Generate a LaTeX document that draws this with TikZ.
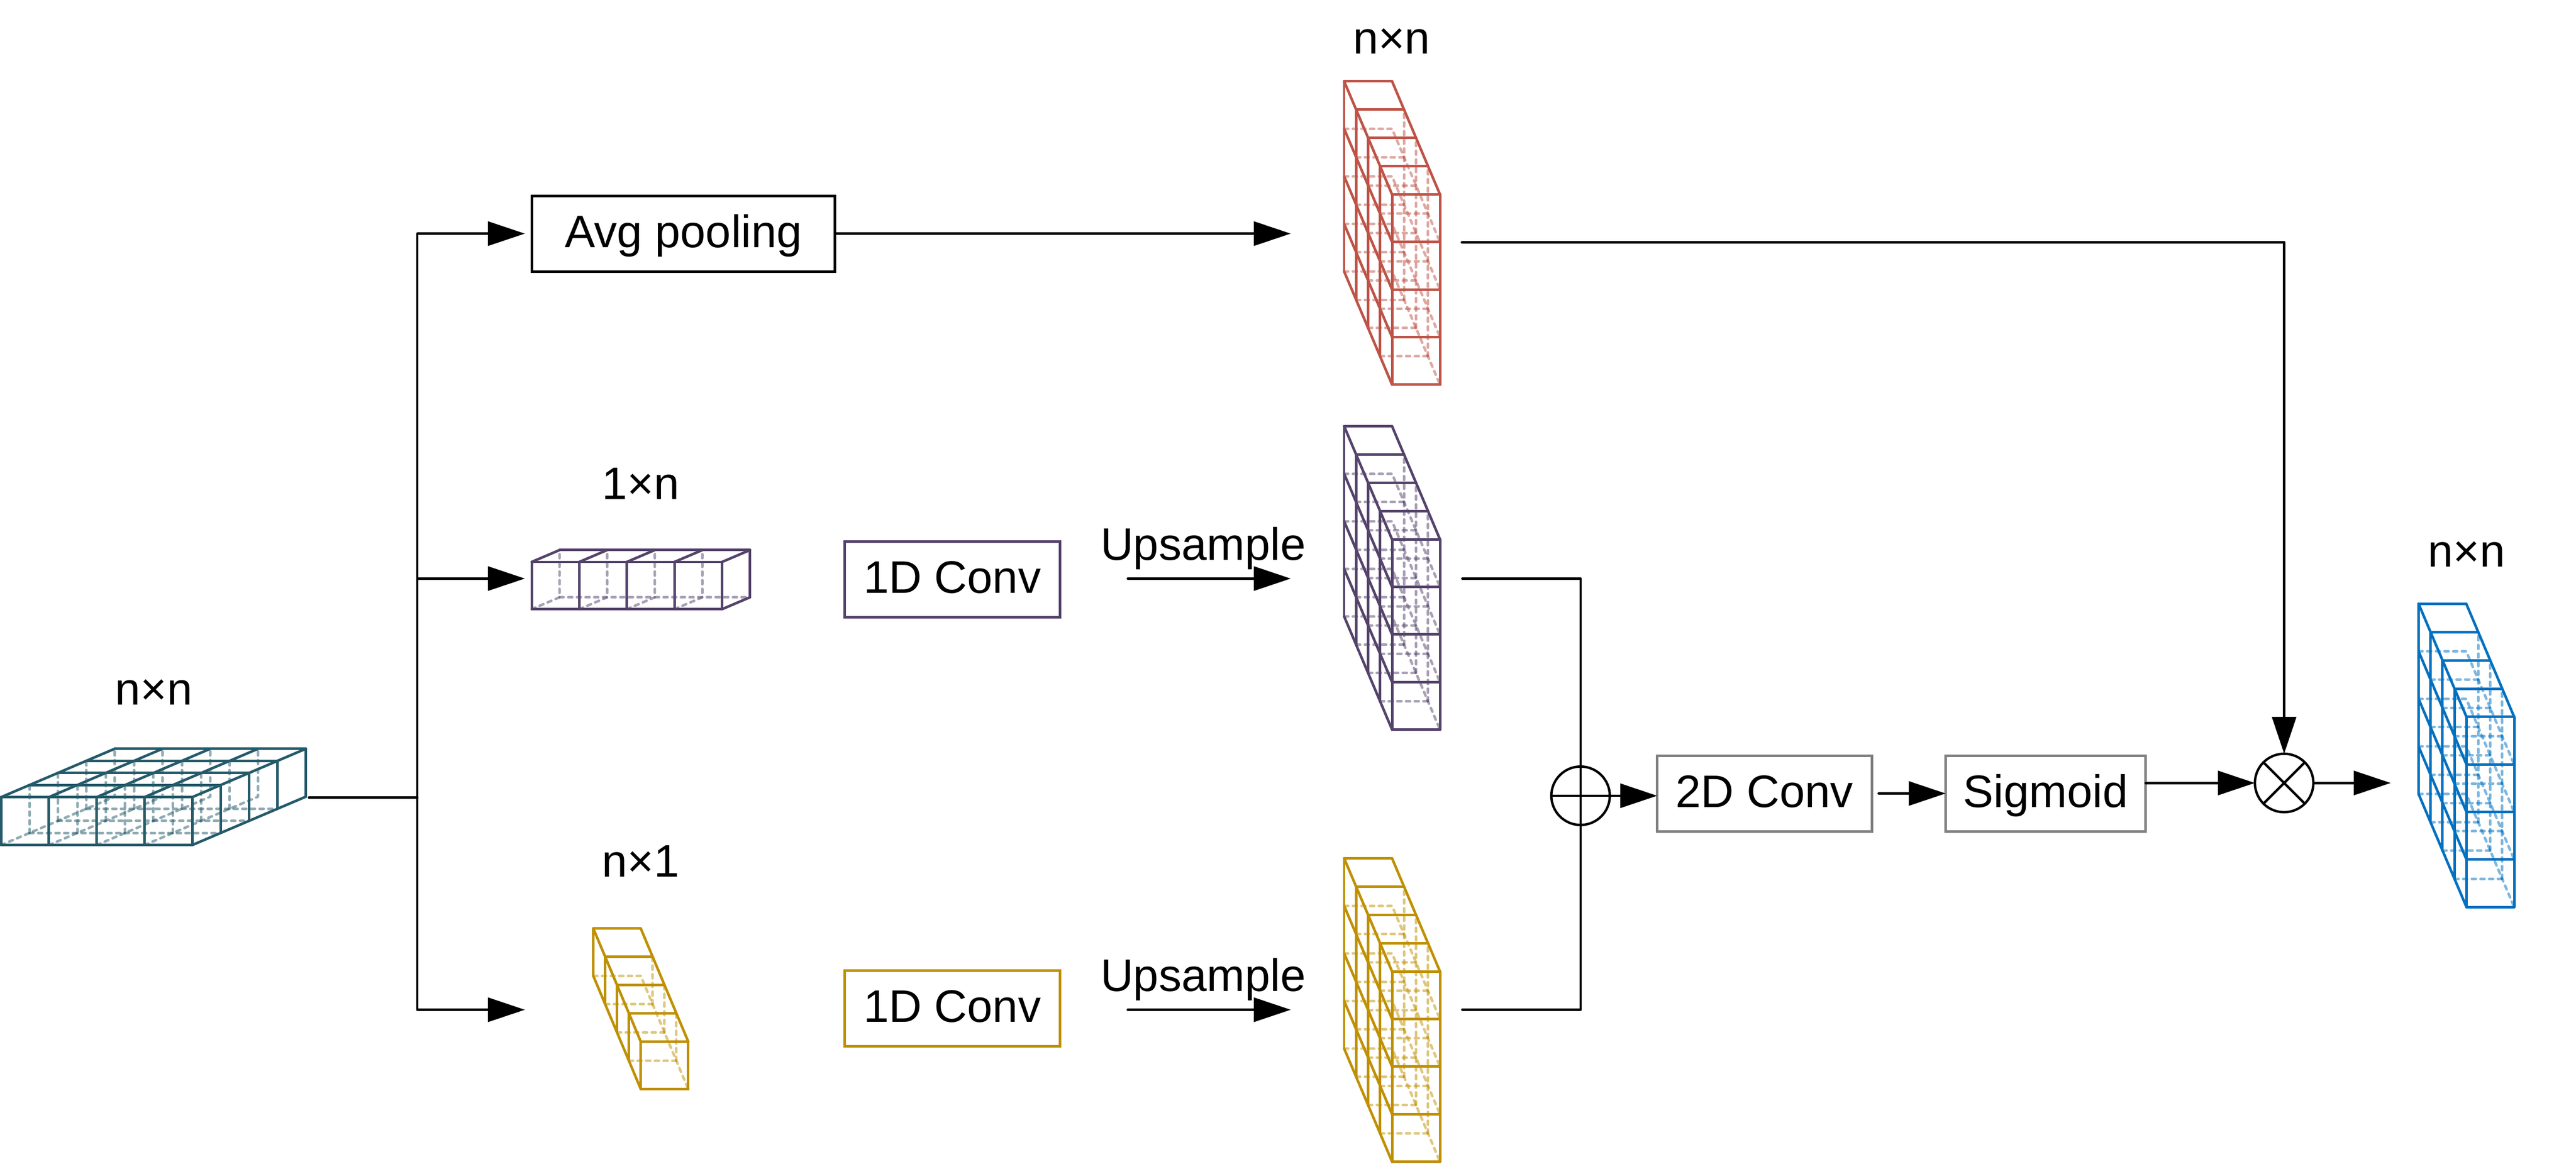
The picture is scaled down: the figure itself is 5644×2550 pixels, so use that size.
\documentclass[tikz,border=0pt]{standalone}
\usepackage{fontspec}
\setmainfont{Liberation Sans}
\usetikzlibrary{arrows.meta}

\definecolor{tealblock}{HTML}{245A69}
\definecolor{purpleblock}{HTML}{54436B}
\definecolor{yellowblock}{HTML}{BF9000}
\definecolor{redblock}{HTML}{BE5347}
\definecolor{blueblock}{HTML}{0070C0}
\definecolor{greybox}{HTML}{7F7F7F}

\tikzset{
    solidline/.style  = {line width=1.6pt, line cap=round, line join=round},
    hiddenline/.style = {line width=1.6pt, line cap=round, line join=round, draw opacity=0.5, dash pattern=on 2.5pt off 2.9pt},
    wire/.style       = {line width=1.5pt, line cap=round, line join=round},
    arrowwire/.style  = {wire, -{Triangle[length=23pt,width=15pt]}},
    opbox/.style      = {draw=#1, line width=1.6pt, minimum height=1.66cm, text height=0.71cm, text depth=0.11cm,
                         inner sep=0pt, outer sep=0pt, font=\fontsize{28.4}{30}\selectfont},
    sizelabel/.style  = {anchor=base, inner sep=0pt, font=\fontsize{28.4}{30}\selectfont},
    opcircle/.style   = {draw, circle, line width=1.5pt, minimum size=1.28cm, inner sep=0pt, outer sep=0pt}
}

% x, y (front bottom left), rows, layers, cell width, cell height, layer dx, layer dy
\newcommand{\tallblock}[8]{
    \begin{scope}[shift={(#1,#2)}, x={(#5*0.01cm,0)}, y={(0,#6*0.01cm)}, z={(#7*0.01cm,#8*0.01cm)}]
        % hidden edges
        \foreach \row in {1,...,#3} {
            \draw[hiddenline] (0,\row-1,#4) -- (1,\row-1,#4) -- (1,\row-1,0);
            \foreach \lay in {1,...,#4} {
                \ifnum\lay<#4\relax
                    \draw[hiddenline] (0,\row-1,\lay) -- (1,\row-1,\lay);
                \fi
            }
        }
        \foreach \lay in {1,...,#4} {
            \ifnum\lay<#4\relax
                \draw[hiddenline] (1,0,\lay) -- (1,#3,\lay);
            \fi
        }
        % front
        \foreach \row in {0,...,#3}
            \draw[solidline] (0,\row,0) -- (1,\row,0);
        \draw[solidline] (0,0,0) -- (0,#3,0);
        \draw[solidline] (1,0,0) -- (1,#3,0);
        % top
        \foreach \lay in {1,...,#4}
            \draw[solidline] (0,#3,\lay) -- (1,#3,\lay);
        \draw[solidline] (1,#3,0) -- (1,#3,#4);
        % left side
        \foreach \lay in {1,...,#4}
            \draw[solidline] (0,0,\lay) -- (0,#3,\lay);
        \foreach \row in {0,...,#3}
            \draw[solidline] (0,\row,0) -- (0,\row,#4);
    \end{scope}
}

% x, y (front bottom left), columns, layers, cell width, cell height, layer dx, layer dy, floor lines
\newcommand{\flatblock}[9]{
    \begin{scope}[shift={(#1,#2)}, x={(#5*0.01cm,0)}, y={(0,#6*0.01cm)}, z={(#7*0.01cm,#8*0.01cm)}]
        % hidden edges
        \foreach \col in {1,...,#3} {
            \draw[hiddenline] (\col-1,0,0) -- (\col-1,0,#4) -- (\col-1,1,#4);
            \foreach \lay in {1,...,#4} {
                \ifnum\lay<#4\relax
                    \draw[hiddenline] (\col-1,0,\lay) -- (\col-1,1,\lay);
                \fi
            }
        }
        \foreach \lay in {#9}
            \draw[hiddenline] (0,0,\lay) -- (#3,0,\lay);
        % front
        \foreach \col in {0,...,#3}
            \draw[solidline] (\col,0,0) -- (\col,1,0);
        \draw[solidline] (0,0,0) -- (#3,0,0);
        \draw[solidline] (0,1,0) -- (#3,1,0);
        % top
        \foreach \lay in {1,...,#4}
            \draw[solidline] (0,1,\lay) -- (#3,1,\lay);
        \foreach \col in {0,...,#3}
            \draw[solidline] (\col,1,0) -- (\col,1,#4);
        % right side
        \foreach \lay in {1,...,#4}
            \draw[solidline] (#3,0,\lay) -- (#3,1,\lay);
        \draw[solidline] (#3,0,0) -- (#3,0,#4);
    \end{scope}
}

\begin{document}
\begin{tikzpicture}[x=0.01cm, y=-0.01cm]
    \useasboundingbox (0,0) rectangle (5644,2550);

    % Blocks
    \begin{scope}[color=tealblock]
        \flatblock{2.5}{1852}{4}{4}{104.7}{105}{62.2}{26.5}{1,2,3}
    \end{scope}
    \begin{scope}[color=purpleblock]
        \flatblock{1165}{1335}{4}{1}{104.3}{103.5}{61}{26}{1}
        \tallblock{3050}{1599}{4}{4}{105}{104.2}{-26.25}{62}
    \end{scope}
    \begin{scope}[color=yellowblock]
        \tallblock{1404}{2387}{1}{4}{104}{104}{-26}{62}
        \tallblock{3050}{2546}{4}{4}{105}{104.2}{-26.25}{62}
    \end{scope}
    \begin{scope}[color=redblock]
        \tallblock{3050}{843}{4}{4}{105}{104.2}{-26.25}{62}
    \end{scope}
    \begin{scope}[color=blueblock]
        \tallblock{5404}{1988}{4}{4}{104.5}{104.2}{-26.25}{62}
    \end{scope}

    % Size labels
    \node[sizelabel] (inputsize) at (337,1545) {n×n};
    \node[sizelabel] (avgsize) at (3049,118) {n×n};
    \node[sizelabel] (rowsize) at (1404,1094) {1×n};
    \node[sizelabel] (colsize) at (1404,1922) {n×1};
    \node[sizelabel] (outsize) at (5404,1242) {n×n};

    % Boxes
    \node[opbox=black, minimum width=6.63cm] (avgpool) at (1497.5,512) {Avg pooling};
    \node[opbox=purpleblock, minimum width=4.72cm] (convrow) at (2086.5,1270) {1D Conv};
    \node[opbox=yellowblock, minimum width=4.72cm] (convcol) at (2086.5,2210) {1D Conv};
    \node[opbox=greybox, minimum width=4.70cm] (conv2d) at (3866,1739) {2D Conv};
    \node[opbox=greybox, minimum width=4.38cm] (sigmoid) at (4482,1739) {Sigmoid};
    \node[sizelabel] (uprow) at (2636,1227) {Upsample};
    \node[sizelabel] (upcol) at (2636,2172) {Upsample};

    % Operators
    \node[opcircle] (addop) at (3463,1744) {};
    \draw[wire] (addop.west) -- (addop.east);
    \node[opcircle] (mulop) at (5004.5,1716) {};
    \draw[wire] (mulop.north west) -- (mulop.south east);
    \draw[wire] (mulop.north east) -- (mulop.south west);

    % Free ends
    \coordinate (inputout) at (677,1748);
    \coordinate (split) at (914.5,1748);
    \coordinate (avgin) at (1150,512);
    \coordinate (rowin) at (1150,1268);
    \coordinate (colin) at (1150,2213);
    \coordinate (redin) at (2828,512);
    \coordinate (redout) at (3203,531);
    \coordinate (uprowa) at (2471,1268);
    \coordinate (uprowb) at (2828,1268);
    \coordinate (upcola) at (2471,2213);
    \coordinate (upcolb) at (2828,2213);
    \coordinate (rowout) at (3204,1268);
    \coordinate (colout) at (3204,2213);
    \coordinate (output) at (5238,1716);

    % Connectors
    \draw[wire] (inputout) -- (split);
    \draw[arrowwire] (split) |- (avgin);
    \draw[arrowwire] (split) |- (rowin);
    \draw[arrowwire] (split) |- (colin);
    \draw[arrowwire] (avgpool.east) -- (redin);
    \draw[arrowwire] (uprowa) -- (uprowb);
    \draw[arrowwire] (upcola) -- (upcolb);
    \draw[wire] (rowout) -| (addop.north);
    \draw[wire] (colout) -| (addop.south);
    \draw[wire] (addop.north) -- (addop.south);
    \draw[arrowwire] (addop.east) -- (addop.east -| conv2d.west);
    \draw[arrowwire] ([xshift=0.15cm]conv2d.east) -- (sigmoid.west);
    \draw[arrowwire] (sigmoid.east |- mulop.west) -- (mulop.west);
    \draw[arrowwire] (mulop.east) -- (output);
    \draw[arrowwire] (redout) -| (mulop.north);
\end{tikzpicture}
\end{document}
